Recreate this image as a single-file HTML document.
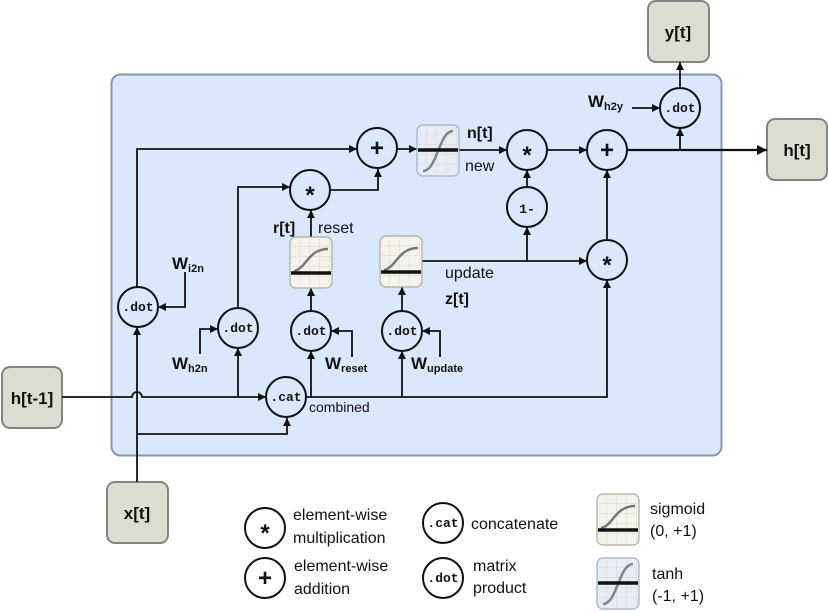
<!DOCTYPE html>
<html><head><meta charset="utf-8"><style>
html,body{margin:0;padding:0;background:#fff;width:828px;height:612px;overflow:hidden}
svg{display:block}
text{font-family:"Liberation Sans",sans-serif;fill:#111}
.mono{font-family:"Liberation Mono",monospace;font-weight:bold;font-size:13px}
.b{font-weight:bold}
</style></head><body>
<svg width="828" height="612" viewBox="0 0 828 612" xmlns="http://www.w3.org/2000/svg">
<defs>
<marker id="a" viewBox="0 0 10 10" refX="10" refY="5" markerWidth="9" markerHeight="8" orient="auto" markerUnits="userSpaceOnUse"><path d="M0,0 L10,5 L0,10 z" fill="#111"/></marker>
<marker id="A" viewBox="0 0 10 10" refX="10" refY="5" markerWidth="11" markerHeight="10" orient="auto" markerUnits="userSpaceOnUse"><path d="M0,0 L10,5 L0,10 z" fill="#111"/></marker>
<pattern id="g" width="10" height="10" patternUnits="userSpaceOnUse"><path d="M10,0 V10 M0,10 H10" stroke="#d8d8d0" stroke-width="1" fill="none"/></pattern>
<g id="sig">
<rect x="0" y="0" width="42" height="51" rx="6" fill="#f5f3ee" stroke="#b0ab95" stroke-width="1.2"/>
<rect x="2" y="2" width="38" height="47" fill="url(#g)"/>
<path d="M4,34 C16,32 18,12 38,12" stroke="#777" stroke-width="2.5" fill="none"/>
<line x1="1" y1="36" x2="41" y2="36" stroke="#111" stroke-width="3.5"/>
</g>
<g id="tanh">
<rect x="0" y="0" width="42" height="51" rx="6" fill="#e8edf5" stroke="#9fb0c8" stroke-width="1.2"/>
<rect x="2" y="2" width="38" height="47" fill="url(#g)"/>
<path d="M6,46 C20,46 22,6 36,6" stroke="#7a8598" stroke-width="2.5" fill="none"/>
<line x1="1" y1="25" x2="41" y2="25" stroke="#111" stroke-width="3.5"/>
</g>
</defs>

<rect x="111.5" y="74.5" width="610" height="381" rx="9" fill="#dae8fc" stroke="#8596ad" stroke-width="2"/>

<g fill="#dcddd0" stroke="#7f8580" stroke-width="2">
<rect x="2" y="367" width="60" height="61" rx="8"/>
<rect x="107" y="482" width="61" height="61" rx="8"/>
<rect x="648" y="1" width="61" height="61" rx="8"/>
<rect x="767" y="119" width="60" height="61" rx="8"/>
</g>
<text x="32" y="404" font-size="17" class="b" text-anchor="middle">h[t-1]</text>
<text x="137" y="519" font-size="17" class="b" text-anchor="middle">x[t]</text>
<text x="678" y="38" font-size="17" class="b" text-anchor="middle">y[t]</text>
<text x="797" y="156" font-size="17" class="b" text-anchor="middle">h[t]</text>

<g stroke="#111" stroke-width="1.8" fill="none">
<path d="M62,397 H132 A5,5 0 0 1 142,397 H266" marker-end="url(#a)"/>
<path d="M306,397 H607 V280" marker-end="url(#a)"/>
<path d="M137,482 V327" marker-end="url(#a)"/>
<path d="M137,434 H287 V418" marker-end="url(#a)"/>
<path d="M137,287 V149 H357" marker-end="url(#a)"/>
<path d="M185,272 V307 H158" marker-end="url(#a)"/>
<path d="M238,397 V348" marker-end="url(#a)"/>
<path d="M200,354 V329 H218" marker-end="url(#a)"/>
<path d="M238,308 V187 H290" marker-end="url(#a)"/>
<path d="M311,397 V351" marker-end="url(#a)"/>
<path d="M352,357 V331 H331" marker-end="url(#a)"/>
<path d="M402,397 V351" marker-end="url(#a)"/>
<path d="M440,357 V331 H422" marker-end="url(#a)"/>
<path d="M311,311 V288" marker-end="url(#a)"/>
<path d="M311,237 V210" marker-end="url(#a)"/>
<path d="M402,311 V287" marker-end="url(#a)"/>
<path d="M330,190 H378 V169" marker-end="url(#a)"/>
<path d="M397,149 H417" marker-end="url(#a)"/>
<path d="M458,150 H507" marker-end="url(#a)"/>
<path d="M422,261 H587" marker-end="url(#a)"/>
<path d="M527,261 V227" marker-end="url(#a)"/>
<path d="M527,187 V170" marker-end="url(#a)"/>
<path d="M547,150 H587" marker-end="url(#a)"/>
<path d="M607,240 V170" marker-end="url(#a)"/>
<path d="M680,150 V128" marker-end="url(#a)"/>
<path d="M680,88 V62" marker-end="url(#a)"/>
<path d="M632,108 H660" marker-end="url(#a)"/>
</g>
<path d="M627,150 H767" stroke="#111" stroke-width="2.2" fill="none" marker-end="url(#A)"/>

<use href="#tanh" x="417" y="125"/>
<use href="#sig" x="290" y="237"/>
<use href="#sig" x="380" y="236"/>

<g fill="none" stroke="#111" stroke-width="2">
<circle cx="138" cy="307" r="20"/>
<circle cx="238" cy="328" r="20"/>
<circle cx="286" cy="397" r="20"/>
<circle cx="311" cy="331" r="20"/>
<circle cx="402" cy="331" r="20"/>
<circle cx="310" cy="190" r="20"/>
<circle cx="377" cy="148" r="20"/>
<circle cx="527" cy="150" r="20"/>
<circle cx="527" cy="207" r="20"/>
<circle cx="607" cy="150" r="20"/>
<circle cx="607" cy="260" r="20"/>
<circle cx="680" cy="108" r="20"/>
<circle cx="265" cy="528" r="20"/>
<circle cx="265" cy="578" r="20"/>
<circle cx="443" cy="523" r="20"/>
<circle cx="443" cy="578" r="20"/>
</g>
<g text-anchor="middle">
<text class="mono" x="138" y="311">.dot</text>
<text class="mono" x="238" y="332">.dot</text>
<text class="mono" x="286" y="401">.cat</text>
<text class="mono" x="311" y="335">.dot</text>
<text class="mono" x="402" y="335">.dot</text>
<text class="mono" x="680" y="112">.dot</text>
<text class="mono" x="527" y="213" font-size="16">1-</text>
<text class="mono" x="443" y="527">.cat</text>
<text class="mono" x="443" y="582">.dot</text>
<text x="310" y="203" font-size="24" class="b">*</text>
<text x="527" y="163" font-size="24" class="b">*</text>
<text x="607" y="273" font-size="24" class="b">*</text>
<text x="265" y="541" font-size="24" class="b">*</text>
<text x="377" y="156" font-size="24" class="b">+</text>
<text x="607" y="158" font-size="24" class="b">+</text>
<text x="265" y="586" font-size="24" class="b">+</text>
</g>

<text x="467" y="138" font-size="16" class="b">n[t]</text>
<text x="465" y="171" font-size="16">new</text>
<text x="273" y="233" font-size="16" class="b">r[t]</text>
<text x="318" y="233" font-size="16">reset</text>
<text x="445" y="278" font-size="16">update</text>
<text x="445" y="304" font-size="16" class="b">z[t]</text>
<text x="309" y="412" font-size="14">combined</text>
<text x="172" y="269" font-size="17" class="b">W<tspan font-size="11" dy="3">i2n</tspan></text>
<text x="172" y="369" font-size="17" class="b">W<tspan font-size="11" dy="3">h2n</tspan></text>
<text x="325" y="369" font-size="17" class="b">W<tspan font-size="11" dy="3">reset</tspan></text>
<text x="411" y="369" font-size="17" class="b">W<tspan font-size="11" dy="3">update</tspan></text>
<text x="588" y="107" font-size="17" class="b">W<tspan font-size="11" dy="3">h2y</tspan></text>

<g font-size="16">
<text x="293" y="520">element-wise</text>
<text x="293" y="543">multiplication</text>
<text x="294" y="571">element-wise</text>
<text x="294" y="594">addition</text>
<text x="471" y="529">concatenate</text>
<text x="473" y="571">matrix</text>
<text x="473" y="593">product</text>
<text x="650" y="514">sigmoid</text>
<text x="650" y="536">(0, +1)</text>
<text x="652" y="579">tanh</text>
<text x="652" y="601">(-1, +1)</text>
</g>
<use href="#sig" x="597" y="494"/>
<use href="#tanh" x="597" y="558"/>
</svg>
</body></html>
